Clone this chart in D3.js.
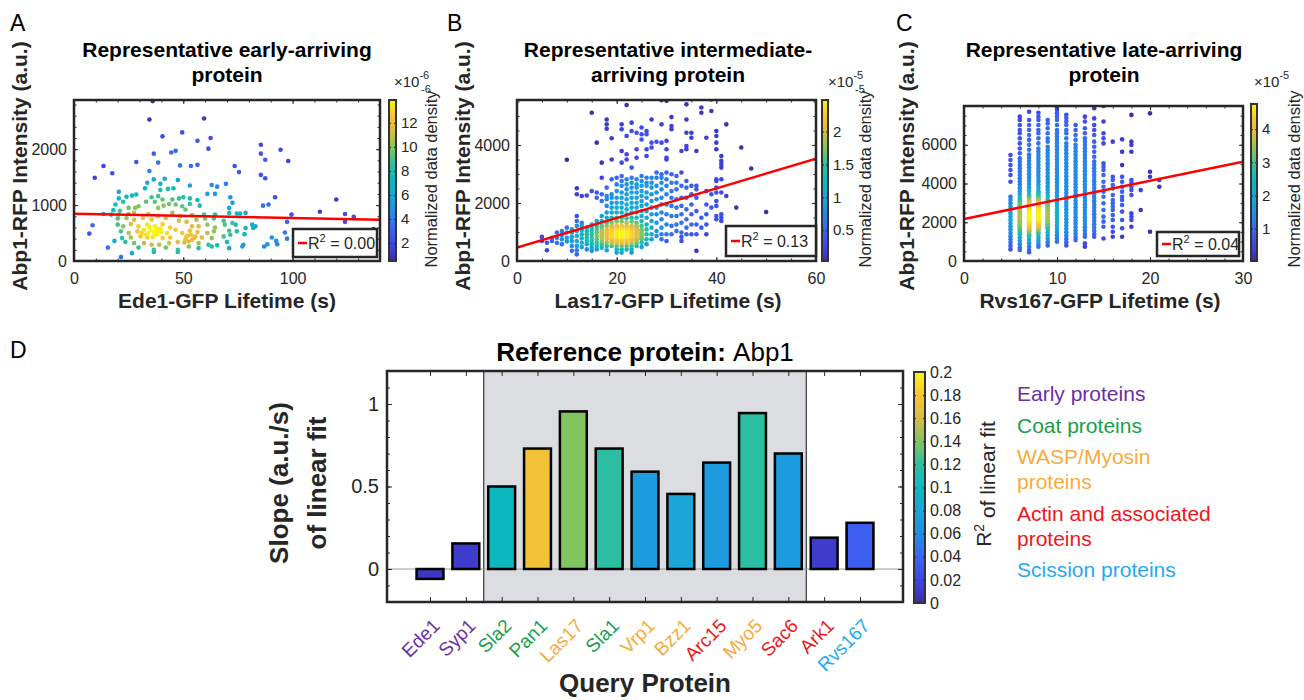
<!DOCTYPE html>
<html>
<head>
<meta charset="utf-8">
<script src="https://cdn.jsdelivr.net/npm/d3@7"></script>
<style>
  body { margin: 0; background: #fff; }
  svg { font-family: Arial, "Liberation Sans", Helvetica, sans-serif; }
</style>
</head>
<body>
<svg id="fig" width="1304" height="700"></svg>
<script>
// ---------------- data ----------------
// panel A: Ede1-GFP lifetime (s) vs Abp1-RFP intensity (a.u.)
var ede1Points = [
  [36,2860],[34.5,2530],[59.5,2550],[49.5,2300],[40.5,2230],[56.5,2150],[62.5,2200],[61.5,2010],[36.5,1920],[44.5,1940],
  [46.5,1970],[85.5,2080],[85.5,1920],[87.5,1810],[94.5,1990],[98,1790],[28.5,1770],[38.5,1760],[48.5,1710],[53.5,1700],
  [56.5,1720],[73.5,1700],[75.5,1590],[13.5,1700],[17.5,1570],[9.5,1490],[34.5,1610],[85.5,1540],[87.5,1480],[33.5,1400],
  [36.5,1460],[41.5,1470],[47.5,1450],[53,1350],[39.5,1380],[63,1360],[65.5,1330],[69.5,1380],[20.5,1240],[32.5,1300],
  [39.5,1270],[43,1290],[45.5,1300],[26.5,1170],[28.5,1190],[24,1150],[61,1200],[64.5,1200],[92,1140],[120,1100],
  [35.5,1140],[38.5,1160],[50,1140],[53,1120],[40.5,1100],[45,1100],[48,1120],[20.5,1120],[22.5,1060],[33,1060],
  [37,1060],[56.5,1090],[71.5,1140],[72.5,1040],[19,1010],[29.5,980],[25,950],[43.5,1020],[46.5,1010],[49.5,980],
  [53,1020],[57.5,990],[86.5,990],[89,1010],[18,910],[21,900],[28,950],[38.5,950],[41,990],[51,920],
  [71,950],[76,850],[78.5,860],[99.5,830],[112.5,880],[124,840],[128,790],[13.5,840],[17,830],[20.5,830],
  [25,840],[27.5,860],[34,840],[38.5,800],[45,860],[48.5,800],[54,820],[59.5,830],[64.5,830],[71,860],
  [74.5,850],[124,700],[97.5,700],[8.5,640],[20,760],[24,770],[27.5,740],[31.5,770],[35.5,740],[42,770],
  [48,720],[51.5,700],[56,740],[60,760],[64,760],[68.5,720],[72.5,680],[81.5,650],[83,620],[7,490],
  [20,650],[22.5,620],[26,660],[29.5,620],[33.5,650],[37,620],[40.5,660],[44,600],[54,620],[57,620],
  [61,650],[64.5,600],[69,650],[74,650],[78.5,590],[82,590],[96.5,510],[137,570],[21.5,530],[25,500],
  [29,530],[32,560],[34,500],[38.5,540],[42.5,500],[46.5,560],[49.5,500],[53,540],[56.5,520],[61,500],
  [64,530],[71,540],[74.5,530],[78,480],[22,410],[26,420],[30.5,440],[33.5,420],[37,470],[40.5,410],
  [44,420],[51.5,440],[55,410],[58.5,420],[63,410],[68.5,440],[71.5,470],[90.5,420],[92.5,360],[97.5,400],
  [18.5,360],[23.5,340],[27.5,320],[32,320],[35.5,290],[39,290],[43.5,320],[47.5,340],[52.5,350],[57,320],
  [61.5,290],[65.5,280],[70,340],[77.5,290],[88.5,300],[93,300],[29.5,240],[36.5,200],[42,240],[47.5,200],
  [52.5,260],[57,230],[63,260],[71,230],[77,260],[87,260],[15.5,240],[26.5,140],[36.5,160],[47.5,160],
  [21.5,70],[35,560],[36.5,520],[38,480],[33,470],[36,430],[39.5,580],[31,500],[34.5,610],[40,520],
  [37.5,590],[52,450],[54,380],[50.5,330],[53.5,470],[55.5,440],[51,390]
];

// panel B: Las17-GFP lifetime (s) -> Abp1-RFP intensities at that lifetime
var las17Columns = [
  [5,[830,690]],[6,[630,370]],[7,[800,690]],[8,[980,800,630]],[9,[1030,900,750,580]],
  [10,[3490,1150,980,800,670]],[11,[1090,980,830,690,520,350]],
  [12,[2510,2300,1550,1380,1210,1030,860,690,520,370,230]],
  [13,[2240,1320,1210,1060,920,780,630,480]],
  [14,[2260,1150,1030,920,800,690,580,400]],
  [15,[5110,2410,1260,1150,1030,920,800,690,580,460,350]],
  [16,[4080,2360,2180,1380,1210,1090,980,860,750,630,520,400]],
  [17,[3390,2870,2300,2070,1550,1380,1210,1030,920,800,690,580,460,1150,980,860]],
  [18,[4880,4710,4560,2530,2240,2130,1900,1670,1490,1320,1210,1090,980,860,750,630,520,370,1030,920,810]],
  [19,[4230,3500,2820,2300,2180,2010,1840,1670,1490,1320,1210,1090,980,860,750,630,520,1150,1030,920,810,700]],
  [20,[2870,2640,2410,2180,2010,1840,1670,1490,1360,1210,1090,980,860,750,630,520,400,290,1150,1030,920,810,700]],
  [21,[4710,4540,3790,3390,2930,2760,2590,2360,2180,2010,1840,1670,1490,1360,1210,1090,980,860,750,630,520,400,290,1150,1030,920,810,700]],
  [22,[5380,4310,3680,3500,2820,2640,2470,2300,2130,1950,1780,1610,1470,1320,1210,1090,980,860,750,630,520,400,1150,1030,920,810,700]],
  [23,[4770,4480,3220,2870,2700,2530,2360,2180,2010,1840,1670,1490,1360,1210,1090,980,860,750,630,520,400,290,1150,1030,920,810,700]],
  [24,[4420,3850,3560,2820,2640,2530,2360,2180,2010,1840,1670,1490,1320,1210,1090,980,860,750,630,520,1150,1030,920,810,700]],
  [25,[4600,4370,4190,2930,2760,2590,2410,2240,2070,1900,1720,1550,1380,1210,1090,980,860,750,630,480,1030,920,810]],
  [26,[4480,4370,3850,3620,2870,2700,2590,2360,2180,1950,1720,1490,1260,1090,920,750,580]],
  [27,[4880,4080,3910,2870,2700,2530,2300,2070,1840,1610,1380,1150,920,750]],
  [28,[4110,3050,2870,2590,2360,2130,1840,1610,1320,1030,860]],
  [29,[5540,4710,4080,2990,2870,2700,2470,2180,1950,1670,1440,1150,920,750]],
  [30,[5520,4140,3850,3560,3500,3050,2820,2590,2300,1950,1610,1260,920,690]],
  [31,[4960,4650,4540,2990,2700,2410,2180,1900,1550,1210,920]],
  [32,[2930,2700,2470,2130,1840,1550,1260,1030]],
  [33,[3790,3050,2590,2180,1900,1610,1320,980,830,690]],
  [34,[5400,4880,4420,3960,3850,2760,2530,2180,1780,1440,1150,920]],
  [35,[4420,4250,2590,2300,1950,1610,1260,920]],
  [36,[3790,2590,2470,2180,1720,1260,920,350]],
  [37,[5290,5110,1490,1150]],
  [38,[4250,2410,1950,1610,1260,920]],
  [39,[5570,5170,2300,1840]],
  [40,[4480,4310,4080,3850,2820,2760,2530,2360,2070,1900,1550,1440]],
  [41,[3620,3450,3330,3220,2820,2360,1610,1490,1380]],
  [42,[4710,2240]],[44,[1840,1150]],[45,[3910]],[47,[3190]],[50,[1690]]
];

// panel C: Rvs167-GFP lifetime (s) -> Abp1-RFP intensities at that lifetime
var rvs167Columns = [
  [5,[5470,5210,4950,4700,4440,4090,3320,3150,2980,2810,2640,2470,2300,2130,1960,1790,1620,1450,1280,1110,940,770,600]],
  [6,[7450,7280,7020,6760,6590,6330,6070,5810,5560,5300,5130,4950,4780,4610,4440,4270,4100,3930,3760,3590,3420,3250,3080,
      2910,2740,2570,2400,2230,2060,1890,1720,1550,1380,1210,1040,870,700,570,
      3160,2990,2820,2650,2480,2310,2140,1970,1800,1630,1460,2900,2730,2560,2390,2220,2050,1880,1710]],
  [7,[7700,7280,7020,6760,6500,6250,6000,5740,5500,5330,5160,4990,4820,4650,4480,4310,4140,3970,3800,3630,3460,3290,3120,
      2950,2780,2610,2440,2270,2100,1930,1760,1590,1420,1250,1080,910,740,570,450,
      3370,3200,3030,2860,2690,2520,2350,2180,2010,1840,1670,1500,1330,
      3070,2900,2730,2560,2390,2220,2050,1880,1710,1540,2990,2820,2650,2480,2310,2140,1970,1800,1630]],
  [8,[7650,7450,7280,7020,6760,6590,6330,6070,5810,5640,5470,5300,5130,4960,4790,4620,4450,4280,4110,3940,3770,3600,3430,
      3260,3090,2920,2750,2580,2410,2240,2070,1900,1730,1560,1390,1220,1050,880,740,
      3510,3340,3170,3000,2830,2660,2490,2320,2150,1980,1810,1640,1470,
      3210,3040,2870,2700,2530,2360,2190,2020,1850,1680,3130,2960,2790,2620,2450,2280,2110,1940,1770]],
  [9,[7280,7100,6850,6590,6330,6160,5900,5730,5560,5390,5220,5050,4880,4710,4540,4370,4200,4030,3860,3690,3520,3350,3180,
      3010,2840,2670,2500,2330,2160,1990,1820,1650,1480,1310,1140,970,800,
      2920,2750,2580,2410,2240,2070,1900,1730,2830,2660,2490,2320,2150,1980]],
  [10,[7930,7790,7620,7450,7280,7020,6760,6600,6430,6260,6090,5920,5750,5580,5410,5240,5070,4900,4730,4560,4390,4220,4050,
       3880,3710,3540,3370,3200,3030,2860,2690,2520,2350,2180,2010,1840,1670,1500,1330,1160,990]],
  [11,[7550,7380,7200,7020,6760,6590,6330,6070,5900,5730,5560,5390,5220,5050,4880,4710,4540,4370,4200,4030,3860,3690,3520,
       3350,3180,3010,2840,2670,2500,2330,2160,1990,1820,1650,1480,1310,1140,970,800]],
  [12,[7020,6760,6500,6250,6000,5830,5660,5490,5320,5150,4980,4810,4640,4470,4300,4130,3960,3790,3620,3450,3280,3110,2940,
       2770,2600,2430,2260,2090,1920,1750,1580,1410,1240,1080]],
  [13,[7450,7200,6850,6590,6330,6160,5990,5820,5650,5480,5310,5140,4970,4800,4630,4460,4290,4120,3950,3780,3610,3440,3270,
       3100,2930,2760,2590,2420,2250,2080,1910,1740,1570,1400,1250,910,740]],
  [14,[7880,7360,7020,6760,6500,6160,5900,5640,5380,5130,4960,4790,4620,4450,4280,4110,3940,3770,3600,3430,3260,3090,2920,
       2750,2580,2410,2240,2070,1900,1730,1560,1390,1250]],
  [15,[8000,7200,6590,6330,6070,5040,4870,4700,4440,4090,3830,3580,3320,2980,2630,2290,2030,1770,1160]],
  [16,[6160,4350,4180,3920,3750,3410,3150,2980,2800,2630,2370,2120,1770,1510,1250]],
  [17,[6280,5640,4950,4350,4090,3830,3580,3320,3150,2890,2550,2120,1690,1250]],
  [18,[7540,6160,5990,5640,4180,4010,3840,3660,3410,2460,2290,2120,1770]],
  [19,[3660,2630]],
  [20,[7620,4610,4350,1510]],
  [21,[4180,3830]]
];

// linear fits: intercept, slope, R^2 label
var fitIntercepts = [845, 460, 2170];
var fitSlopes = [-0.76, 51.1, 98.6];
var fitR2Labels = ["0.00", "0.13", "0.04"];

// density colorbars
var cbTicksA = [2, 4, 6, 8, 10, 12], cbDomainA = [0.5, 13.9];
var cbTicksB = [0.5, 1, 1.5, 2], cbDomainB = [0.03, 2.48];
var cbTicksC = [1, 2, 3, 4], cbDomainC = [0.02, 4.76];

// panel D
var categories = ["Ede1","Syp1","Sla2","Pan1","Las17","Sla1","Vrp1","Bzz1","Arc15","Myo5","Sac6","Ark1","Rvs167"];
var slopes = [-0.06, 0.155, 0.5, 0.73, 0.955, 0.73, 0.59, 0.455, 0.645, 0.945, 0.7, 0.19, 0.28];
var fitR2 = [0.008, 0.012, 0.1, 0.175, 0.14, 0.118, 0.072, 0.082, 0.072, 0.118, 0.072, 0.012, 0.035];
var proteinGroup = ["Early","Early","Coat","Coat","WASP","Coat","WASP","WASP","Actin","WASP","Actin","Actin","Scission"];
var groupKeys = ["Early","Coat","WASP","Actin","Scission"];
var groupLabels = [["Early proteins"],["Coat proteins"],["WASP/Myosin","proteins"],["Actin and associated","proteins"],["Scission proteins"]];
var r2Ticks = [0, 0.02, 0.04, 0.06, 0.08, 0.1, 0.12, 0.14, 0.16, 0.18, 0.2];

// ---------------- styling ----------------
var INK = "#262626";
var groupColor = {Early: "#6b2fa3", Coat: "#17a04a", WASP: "#f8ab3c", Actin: "#ee1620", Scission: "#26a9f2"};
var parulaStops = ["#3a2ea8","#4046e6","#3a66f2","#1f8ee6","#1ba4da","#0cb9c0","#2ebfa0","#80c560","#d6bd45","#fcc233","#f6f80f"];
var parula = d3.scaleLinear()
  .domain(parulaStops.map(function(c, i) { return i / (parulaStops.length - 1); }))
  .range(parulaStops).interpolate(d3.interpolateRgb).clamp(true);

var svg = d3.select("#fig");
var defs = svg.append("defs");
var grad = defs.append("linearGradient").attr("id", "parulaGrad")
  .attr("x1", 0).attr("y1", 1).attr("x2", 0).attr("y2", 0);
parulaStops.forEach(function(c, i) {
  grad.append("stop").attr("offset", i / (parulaStops.length - 1)).attr("stop-color", c);
});

function txt(x, y, s, size, opts) {
  opts = opts || {};
  var t = svg.append("text").attr("x", x).attr("y", y).attr("font-size", size)
    .attr("fill", opts.fill || INK).attr("text-anchor", opts.anchor || "start")
    .attr("font-weight", opts.bold ? "bold" : "normal").text(s);
  if (opts.rotate != null) t.attr("transform", "rotate(" + opts.rotate + "," + x + "," + y + ")");
  return t;
}

function styleAxis(sel, fs, keepText) {
  sel.attr("font-family", null).attr("font-size", fs);
  sel.select(".domain").remove();
  sel.selectAll("line").attr("stroke", INK).attr("stroke-width", 1);
  sel.selectAll("text").attr("fill", INK);
  if (!keepText) sel.selectAll("text").remove();
}

// box with inward ticks on all four sides
function boxAxes(x, y, box, o) {
  var l = box[0], t = box[1], r = box[2], b = box[3];
  var g = svg.append("g");
  var f = function(d) { return String(d); };
  g.append("g").attr("transform", "translate(0," + b + ")")
    .call(d3.axisBottom(x).tickValues(o.xMajor).tickSize(-o.tick).tickPadding(o.xPad).tickFormat(f))
    .call(function(s) { styleAxis(s, o.fs, !o.noXLabels); });
  g.append("g").attr("transform", "translate(0," + t + ")")
    .call(d3.axisTop(x).tickValues(o.xMajor).tickSize(-o.tick).tickFormat(f))
    .call(function(s) { styleAxis(s, o.fs, false); });
  g.append("g").attr("transform", "translate(" + l + ",0)")
    .call(d3.axisLeft(y).tickValues(o.yMajor).tickSize(-o.tick).tickPadding(o.yPad).tickFormat(f))
    .call(function(s) { styleAxis(s, o.fs, true); });
  g.append("g").attr("transform", "translate(" + r + ",0)")
    .call(d3.axisRight(y).tickValues(o.yMajor).tickSize(-o.tick).tickFormat(f))
    .call(function(s) { styleAxis(s, o.fs, false); });
  if (o.xMinor) {
    g.append("g").attr("transform", "translate(0," + b + ")")
      .call(d3.axisBottom(x).tickValues(o.xMinor).tickSize(-o.minor)).call(function(s) { styleAxis(s, o.fs, false); });
    g.append("g").attr("transform", "translate(0," + t + ")")
      .call(d3.axisTop(x).tickValues(o.xMinor).tickSize(-o.minor)).call(function(s) { styleAxis(s, o.fs, false); });
  }
  if (o.yMinor) {
    g.append("g").attr("transform", "translate(" + l + ",0)")
      .call(d3.axisLeft(y).tickValues(o.yMinor).tickSize(-o.minor)).call(function(s) { styleAxis(s, o.fs, false); });
    g.append("g").attr("transform", "translate(" + r + ",0)")
      .call(d3.axisRight(y).tickValues(o.yMinor).tickSize(-o.minor)).call(function(s) { styleAxis(s, o.fs, false); });
  }
  g.append("rect").attr("x", l).attr("y", t).attr("width", r - l).attr("height", b - t)
    .attr("fill", "none").attr("stroke", INK).attr("stroke-width", o.frame || 2.5);
  return g;
}

function colorbar(box, domain, ticks, fs) {
  var s = d3.scaleLinear().domain(domain).range([box[3], box[1]]);
  var g = svg.append("g");
  g.append("rect").attr("x", box[0]).attr("y", box[1]).attr("width", box[2] - box[0])
    .attr("height", box[3] - box[1]).attr("fill", "url(#parulaGrad)");
  var f = function(d) { return String(d); };
  g.append("g").attr("transform", "translate(" + box[2] + ",0)")
    .call(d3.axisRight(s).tickValues(ticks).tickSize(-2).tickPadding(5).tickFormat(f))
    .call(function(a) { styleAxis(a, fs, true); });
  g.append("g").attr("transform", "translate(" + box[0] + ",0)")
    .call(d3.axisLeft(s).tickValues(ticks).tickSize(-2).tickFormat(f))
    .call(function(a) { styleAxis(a, fs, false); });
  g.append("rect").attr("x", box[0]).attr("y", box[1]).attr("width", box[2] - box[0])
    .attr("height", box[3] - box[1]).attr("fill", "none").attr("stroke", "#333").attr("stroke-width", 2);
}

function flatten(cols) {
  var out = [];
  cols.forEach(function(c) { c[1].forEach(function(v) { out.push([c[0], v]); }); });
  return out;
}

function scatterPanel(c) {
  var l = c.box[0], t = c.box[1], r = c.box[2], b = c.box[3];
  var x = d3.scaleLinear().domain(c.xDomain).range([l, r]);
  var y = d3.scaleLinear().domain(c.yDomain).range([b, t]);
  svg.append("clipPath").attr("id", "clip" + c.id).append("rect")
    .attr("x", l).attr("y", t).attr("width", r - l).attr("height", b - t);

  // colour each point by a gaussian estimate of local point density
  var pts = c.points.map(function(p) { return {px: x(p[0]), py: y(p[1])}; });
  var h2x = 2 * c.bw[0] * c.bw[0], h2y = 2 * c.bw[1] * c.bw[1];
  pts.forEach(function(a) {
    a.d = d3.sum(pts, function(q) {
      var dx = a.px - q.px, dy = a.py - q.py;
      return Math.exp(-(dx * dx) / h2x - (dy * dy) / h2y);
    });
  });
  var ext = d3.extent(pts, function(p) { return p.d; });
  pts.sort(function(a, q) { return a.d - q.d; });

  var g = svg.append("g").attr("clip-path", "url(#clip" + c.id + ")");
  g.selectAll("circle").data(pts).join("circle")
    .attr("cx", function(d) { return d.px; })
    .attr("cy", function(d) { return d.py; })
    .attr("r", 2.3)
    .attr("fill", function(d) { return parula(Math.pow((d.d - ext[0]) / (ext[1] - ext[0]), c.gamma)); });

  var x0 = c.xDomain[0], x1 = c.xDomain[1];
  g.append("line")
    .attr("x1", x(x0)).attr("y1", y(c.fit[0] + c.fit[1] * x0))
    .attr("x2", x(x1)).attr("y2", y(c.fit[0] + c.fit[1] * x1))
    .attr("stroke", "#ff0000").attr("stroke-width", 2.5);

  boxAxes(x, y, c.box, {xMajor: c.xMajor, xMinor: c.xMinor, yMajor: c.yMajor, yMinor: c.yMinor,
    fs: 16, tick: 4, minor: 2.5, xPad: 12, yPad: 7});

  // legend
  var lb = c.legend;
  svg.append("rect").attr("x", lb[0]).attr("y", lb[1]).attr("width", lb[2] - lb[0]).attr("height", lb[3] - lb[1])
    .attr("fill", "#fff").attr("stroke", INK).attr("stroke-width", 2.5);
  var my = (lb[1] + lb[3]) / 2;
  svg.append("line").attr("x1", lb[0] + 5).attr("x2", lb[0] + 14).attr("y1", my).attr("y2", my)
    .attr("stroke", "#ff0000").attr("stroke-width", 2.5);
  var lt = txt(lb[0] + 15, my + 6, "", 16);
  lt.append("tspan").text("R");
  lt.append("tspan").attr("font-size", 11).attr("dy", -7).text("2");
  lt.append("tspan").attr("dy", 7).text(" = " + c.r2);

  // titles and labels
  txt(c.titleX, 57, c.title[0], 21, {bold: true, anchor: "middle", fill: "#000"});
  txt(c.titleX, 82, c.title[1], 21, {bold: true, anchor: "middle", fill: "#000"});
  txt(c.xLabelX, 308, c.xLabel, 21, {bold: true, anchor: "middle"});
  txt(c.yLabelX, 166, "Abp1-RFP Intensity (a.u.)", 21, {bold: true, anchor: "middle", rotate: -90});
  txt(c.letterX, 31, c.letter, 23, {fill: "#000"});

  colorbar(c.cbBox, c.cbDomain, c.cbTicks, 15);
  txt(c.cbLabelX, 179, "Normalized data density", 16.5, {anchor: "middle", rotate: -90});
  var ex = txt(c.expX, 87, "\u00d710", 15);
  ex.append("tspan").attr("font-size", 11).attr("dy", -8).text(c.exp);
  if (c.expGhost) txt(c.expX + 27, 93, c.exp, 11);
}

scatterPanel({
  id: "A", letter: "A", letterX: 10, points: ede1Points, bw: [16, 12], gamma: 0.75,
  box: [74, 100, 380, 261], xDomain: [0, 140], yDomain: [0, 2880],
  xMajor: [0, 50, 100], xMinor: d3.range(0, 141, 10), yMajor: [0, 1000, 2000], yMinor: d3.range(0, 2881, 200),
  fit: [fitIntercepts[0], fitSlopes[0]], r2: fitR2Labels[0], legend: [293, 229, 377, 257],
  title: ["Representative early-arriving", "protein"], titleX: 227,
  xLabel: "Ede1-GFP Lifetime (s)", xLabelX: 227, yLabelX: 27,
  cbBox: [389, 100, 396, 261], cbDomain: cbDomainA, cbTicks: cbTicksA, cbLabelX: 437,
  expX: 394, exp: "-6", expGhost: true
});

scatterPanel({
  id: "B", letter: "B", letterX: 447, points: flatten(las17Columns), bw: [11, 9], gamma: 1,
  box: [517, 100, 816, 261], xDomain: [0, 60], yDomain: [0, 5550],
  xMajor: [0, 20, 40, 60], xMinor: d3.range(0, 61, 5), yMajor: [0, 2000, 4000], yMinor: d3.range(0, 5551, 500),
  fit: [fitIntercepts[1], fitSlopes[1]], r2: fitR2Labels[1], legend: [726, 226, 816, 256],
  title: ["Representative intermediate-", "arriving protein"], titleX: 668,
  xLabel: "Las17-GFP Lifetime (s)", xLabelX: 668, yLabelX: 470,
  cbBox: [822, 100, 828, 261], cbDomain: cbDomainB, cbTicks: cbTicksB, cbLabelX: 871,
  expX: 828, exp: "-5", expGhost: true
});

scatterPanel({
  id: "C", letter: "C", letterX: 896, points: flatten(rvs167Columns), bw: [9, 8], gamma: 0.95,
  box: [964, 106, 1243, 261], xDomain: [0, 30], yDomain: [0, 8000],
  xMajor: [0, 10, 20, 30], xMinor: d3.range(0, 31, 2), yMajor: [0, 2000, 4000, 6000], yMinor: d3.range(0, 8001, 500),
  fit: [fitIntercepts[2], fitSlopes[2]], r2: fitR2Labels[2], legend: [1157, 232, 1239, 256],
  title: ["Representative late-arriving", "protein"], titleX: 1104,
  xLabel: "Rvs167-GFP Lifetime (s)", xLabelX: 1100, yLabelX: 914,
  cbBox: [1251, 104, 1257, 261], cbDomain: cbDomainC, cbTicks: cbTicksC, cbLabelX: 1300,
  expX: 1254, exp: "-5", expGhost: false
});

// ---------------- panel D ----------------
var dBox = [387, 371, 903, 602];
var xD = d3.scaleLinear().domain([-0.2, 14.2]).range([dBox[0], dBox[2]]);
var yD = d3.scaleLinear().domain([-0.2, 1.2]).range([dBox[3], dBox[1]]);
var r2Color = d3.scaleLinear().domain([0, 0.2]).range([0, 1]);

svg.append("rect").attr("x", xD(2.5)).attr("y", dBox[1]).attr("width", xD(11.5) - xD(2.5))
  .attr("height", dBox[3] - dBox[1]).attr("fill", "#dcdde0");
[2.5, 11.5].forEach(function(v) {
  svg.append("line").attr("x1", xD(v)).attr("x2", xD(v)).attr("y1", dBox[1]).attr("y2", dBox[3])
    .attr("stroke", "#111").attr("stroke-width", 1);
});
svg.append("line").attr("x1", dBox[0]).attr("x2", dBox[2]).attr("y1", yD(0)).attr("y2", yD(0))
  .attr("stroke", "#9a9a9a").attr("stroke-width", 1);

svg.append("g").selectAll("rect").data(categories).join("rect")
  .attr("x", function(d, i) { return xD(i + 1 - 0.375); })
  .attr("width", xD(0.75) - xD(0))
  .attr("y", function(d, i) { return yD(Math.max(0, slopes[i])); })
  .attr("height", function(d, i) { return Math.abs(yD(slopes[i]) - yD(0)); })
  .attr("fill", function(d, i) { return parula(r2Color(fitR2[i])); })
  .attr("stroke", "#000").attr("stroke-width", 2.5);

boxAxes(xD, yD, dBox, {xMajor: d3.range(1, 14), yMajor: [0, 0.5, 1], yMinor: d3.range(-1, 12).map(function(k) { return k / 10; }),
  fs: 20, tick: 5, minor: 3, xPad: 10, yPad: 8, noXLabels: true});

categories.forEach(function(name, i) {
  txt(xD(i + 1) + 11, 627, name, 19, {anchor: "end", rotate: -45, fill: groupColor[proteinGroup[i]]});
});

colorbar([914, 372, 925, 603], [0, 0.2], r2Ticks, 16);
var cl = txt(984, 484, "", 21, {anchor: "middle", rotate: -90});
cl.attr("dy", "0.35em");
cl.append("tspan").text("R");
cl.append("tspan").attr("font-size", 14).attr("dy", "-0.55em").text("2");
cl.append("tspan").attr("dy", "0.55em").text(" of linear fit");

var title = txt(645, 361, "", 26, {anchor: "middle", fill: "#000"});
title.append("tspan").attr("font-weight", "bold").text("Reference protein: ");
title.append("tspan").text("Abp1");

txt(10, 358, "D", 23, {fill: "#000"});
txt(288, 483, "Slope (a.u./s)", 26, {bold: true, anchor: "middle", rotate: -90});
txt(326, 483, "of linear fit", 26, {bold: true, anchor: "middle", rotate: -90});
txt(645, 692, "Query Protein", 26, {bold: true, anchor: "middle"});

var ly = 401;
groupKeys.forEach(function(k, i) {
  groupLabels[i].forEach(function(line, j) {
    txt(1017, ly, line, 21, {fill: groupColor[k]});
    ly += (j < groupLabels[i].length - 1) ? 25 : 31.5;
  });
});
</script>
</body>
</html>
